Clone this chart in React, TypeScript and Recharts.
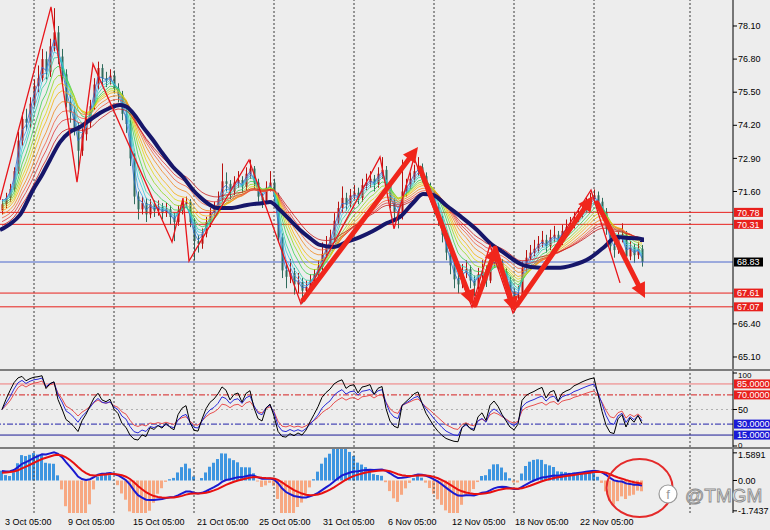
import React from "react";
import { ComposedChart, Bar, Line, XAxis, YAxis, ReferenceLine, ReferenceDot, Cell } from "recharts";

// ---------- price bars (H4-like, one entry per bar) ----------
const opens = [70.85,71.10,71.35,71.70,72.40,73.60,74.45,74.30,75.05,75.75,
76.05,76.80,76.30,77.30,77.85,76.90,76.20,75.10,74.70,74.10,
73.20,73.85,74.30,74.95,75.80,76.45,76.05,75.95,76.15,75.65,
75.40,74.65,74.25,72.90,71.40,70.90,71.15,70.70,71.10,70.85,
71.00,70.75,70.90,70.60,70.40,70.85,71.10,71.20,70.40,69.65,
69.55,69.95,70.40,70.75,70.95,71.30,72.00,71.90,71.60,71.95,
72.05,71.80,72.30,72.50,71.95,71.40,71.25,71.75,71.95,71.40,
69.80,68.50,68.25,68.40,67.95,68.05,67.70,67.85,68.10,68.35,
68.65,69.15,69.50,69.80,70.45,70.95,71.35,71.10,71.45,71.55,
71.35,71.85,71.95,72.10,71.90,72.30,72.45,71.85,71.20,70.80,
70.65,71.60,71.85,72.10,72.40,72.55,72.20,71.80,71.45,71.00,
70.50,69.90,69.20,68.70,68.15,67.95,68.40,68.55,68.10,67.90,
68.35,68.50,68.10,68.75,69.00,68.80,68.45,68.10,67.65,67.40,
67.55,68.60,69.00,69.20,69.35,69.55,69.70,69.45,69.80,69.90,
69.65,70.05,70.20,70.30,70.55,70.70,70.90,71.10,71.30,71.45,
71.20,70.80,70.15,69.45,69.30,69.75,69.90,69.05,69.40,69.10,
69.35];
const highs = [71.30,71.55,71.90,72.55,73.95,74.70,74.85,75.30,76.00,76.55,
77.20,77.10,77.60,78.80,78.10,77.20,76.40,75.40,74.95,74.30,
74.10,74.55,75.20,76.05,76.70,76.60,76.30,76.40,76.35,75.85,
75.55,74.90,74.40,73.10,71.60,71.40,71.35,71.30,71.25,71.25,
71.15,71.15,71.05,70.75,71.05,71.30,71.40,71.30,70.55,69.90,
70.15,70.60,70.95,71.20,71.60,72.70,72.35,72.05,72.20,72.40,
72.20,72.55,72.85,72.60,72.10,71.55,72.00,72.40,72.10,71.55,
69.95,68.80,68.95,68.60,68.40,68.20,68.10,68.35,68.55,68.90,
69.60,69.85,70.10,70.75,71.20,71.80,71.55,71.70,71.85,71.75,
72.10,72.30,72.40,72.25,72.55,72.95,72.60,72.00,71.35,70.90,
72.85,72.10,72.35,72.65,72.95,72.70,72.35,71.95,71.60,71.15,
70.65,70.05,69.40,68.90,68.35,68.75,68.90,68.70,68.30,68.60,
68.90,68.70,69.00,69.45,69.20,68.95,68.60,68.25,67.80,67.90,
68.85,69.30,69.50,69.70,69.85,70.05,69.90,70.10,70.25,70.05,
70.30,70.50,70.60,70.80,70.95,71.15,71.35,71.55,71.68,71.60,
71.35,70.95,70.30,69.65,70.00,70.35,70.05,69.65,69.55,69.60,
69.50];
const lows = [70.70,70.95,71.20,71.60,72.30,73.40,74.00,74.10,74.90,75.50,
75.90,76.00,76.10,77.10,76.60,75.90,74.90,74.30,73.80,72.30,
73.00,73.60,74.10,74.80,75.60,75.80,75.70,75.80,75.45,75.10,
74.40,73.90,72.60,71.10,70.50,70.70,70.40,70.55,70.60,70.65,
70.50,70.60,70.30,69.65,70.25,70.70,70.95,70.20,68.90,69.20,
69.35,69.80,70.20,70.55,70.80,71.20,71.60,71.30,71.45,71.75,
71.55,71.65,72.10,71.70,71.20,70.95,71.10,71.60,71.20,69.60,
68.20,67.80,68.00,67.55,67.60,67.20,67.45,67.70,67.95,68.20,
68.50,69.00,69.30,69.65,70.30,70.80,70.85,70.95,71.25,71.10,
71.20,71.65,71.75,71.60,71.75,72.10,71.60,70.95,70.50,70.15,
70.50,71.40,71.70,71.95,72.20,71.95,71.55,71.20,70.70,70.25,
69.60,68.90,68.35,67.80,67.60,67.80,68.20,67.80,67.50,67.75,
68.15,67.85,68.00,68.60,68.55,68.20,67.80,67.35,66.85,67.20,
67.45,68.45,68.90,69.05,69.20,69.40,69.20,69.30,69.60,69.40,
69.50,69.90,70.00,70.15,70.40,70.55,70.75,70.95,71.15,70.95,
70.55,69.90,69.20,69.00,69.15,69.60,68.70,68.90,68.80,68.95,
68.65];
const closes = [71.10,71.35,71.70,72.40,73.60,74.45,74.30,75.05,75.75,76.05,
76.80,76.30,77.30,77.85,76.90,76.20,75.10,74.70,74.10,73.20,
73.85,74.30,74.95,75.80,76.45,76.05,75.95,76.15,75.65,75.40,
74.65,74.25,72.90,71.40,70.90,71.15,70.70,71.10,70.85,71.00,
70.75,70.90,70.60,70.40,70.85,71.10,71.20,70.40,69.65,69.55,
69.95,70.40,70.75,70.95,71.30,72.00,71.90,71.60,71.95,72.05,
71.80,72.30,72.50,71.95,71.40,71.25,71.75,71.95,71.40,69.80,
68.50,68.25,68.40,67.95,68.05,67.70,67.85,68.10,68.35,68.65,
69.15,69.50,69.80,70.45,70.95,71.35,71.10,71.45,71.55,71.35,
71.85,71.95,72.10,71.90,72.30,72.45,71.85,71.20,70.80,70.65,
71.60,71.85,72.10,72.40,72.55,72.20,71.80,71.45,71.00,70.50,
69.90,69.20,68.70,68.15,67.95,68.40,68.55,68.10,67.90,68.35,
68.50,68.10,68.75,69.00,68.80,68.45,68.10,67.65,67.40,67.55,
68.60,69.00,69.20,69.35,69.55,69.70,69.45,69.80,69.90,69.65,
70.05,70.20,70.30,70.55,70.70,70.90,71.10,71.30,71.45,71.20,
70.80,70.15,69.45,69.30,69.75,69.90,69.05,69.40,69.10,69.35,
68.83];

// ---------- slow navy moving average (x in bar units) ----------
const navyX = [0,2.5,5,8.25,10.5,12.5,15,17.5,20,22.5,25,27.5,30,31.75,33.25,35.75,38.25,40.75,43.25,45.75,48.25,50,52.5,54.25,57.5,61.75,65.75,67.5,70,72.5,75,77.5,80,83.25,86.75,90,93.25,96.75,100,103.25,105.75,108.25,111.75,115,119.25,122.5,125.75,130.75,135,139.25,143.25,147.5,150.75,154.25,157.5,160.5];
const navyP = [70.09,70.32,70.68,71.66,72.25,72.84,73.54,73.94,74.13,74.41,74.68,74.88,75.00,74.92,74.68,74.13,73.62,73.07,72.56,72.17,71.66,71.38,71.07,70.95,70.95,71.07,71.15,71.19,70.87,70.48,70.09,69.77,69.50,69.42,69.62,69.81,70.05,70.36,70.60,71.15,71.50,71.46,71.03,70.64,70.09,69.58,69.22,68.71,68.60,68.60,68.71,68.99,69.38,69.81,69.77,69.73];
const navyTail = 69.62;

// ---------- rainbow MA ribbon (periods in bars, values at first bar) ----------
const rainbowPeriods = [2,3,4,5,7,9,11,13,16,19,22,26];
const rainbowStart = [71.5,71.4,71.3,71.2,71.1,71.0,70.9,70.8,70.65,70.5,70.35,70.2];

// ---------- zigzag pivots ----------
const zigzagX = [0,12.75,19.25,23.25,43,45.75,47.25,62.25,75.25,95,98.5,103.5,118,122.5,128.25,147.75,155];
const zigzagP = [71.27,78.85,71.97,76.61,69.62,71.34,68.87,72.84,67.18,72.96,70.13,72.92,67.06,69.50,66.83,71.66,68.01];

// ---------- thick trend arrows (from -> to) ----------
const arrowFromX = [75.75,105,118.75,123.75,129.25,149.25];
const arrowFromP = [67.34,72.52,67.14,69.38,67.14,71.15];
const arrowToX = [104.5,118.25,124.25,128.75,148.25,161.25];
const arrowToP = [73.35,67.14,69.46,66.87,71.42,67.42];

// ---------- levels & axes ----------
const redLevels = [70.78, 70.31, 67.61, 67.07];
const currentPrice = 68.83;
const priceTicks = [65.1, 66.4, 71.6, 72.9, 74.2, 75.5, 76.8, 78.1];
const oscTicks = [0, 50, 100];
const oscTickText = ["0", "50", "100"];
const macdTicks = [-1.7437, 0, 1.5891];
const macdTickText = ["-1.7437", "0.00", "1.5891"];
const timeTickX = [1.25, 17, 33.25, 49.25, 64.75, 80.75, 97, 113, 128.75, 145];
const timeTickText = ["3 Oct 05:00", "9 Oct 05:00", "15 Oct 05:00", "21 Oct 05:00", "25 Oct 05:00", "31 Oct 05:00", "6 Nov 05:00", "12 Nov 05:00", "18 Nov 05:00", "22 Nov 05:00"];
const gridX = [8.5, 28.5, 48.5, 68.5, 88.5, 108.5, 128.5, 148.5, 172.5];
const circleAt = [159.9, -0.43];

// ---------- indicator helpers ----------
const ema = (src: number[], n: number, seed: number) => {
  const a = 2 / (n + 1);
  let v = seed;
  return src.map((s) => (v = v + a * (s - v)));
};
const rsi = (src: number[], n: number) => {
  let ag = 0.1, al = 0.1;
  return src.map((s, i) => {
    const ch = i ? s - src[i - 1] : 0;
    ag = (ag * (n - 1) + Math.max(ch, 0)) / n;
    al = (al * (n - 1) + Math.max(-ch, 0)) / n;
    return 100 - 100 / (1 + ag / al);
  });
};

const rainbow = rainbowPeriods.map((p, k) => ema(closes, p, rainbowStart[k]));
const fast = ema(closes, 8, 71.0);
const slow = ema(closes, 17, 70.4);
const macd = fast.map((f, i) => f - slow[i]);
const signal = ema(macd, 6, 0.4);
const osc1 = rsi(closes, 5);
const osc2 = rsi(closes, 8);
const osc3 = rsi(closes, 12);

const rows = closes.map((c, i) => {
  const r: any = { x: i + 0.5, o: opens[i], h: highs[i], l: lows[i], c, rng: [lows[i], highs[i]] };
  rainbow.forEach((s, k) => (r["r" + k] = s[i]));
  return r;
});
const navyData = [...navyX.map((x, k) => ({ x, v: navyP[k] })), { x: closes.length - 0.5, v: navyTail }];
const zigzagData = zigzagX.map((x, k) => ({ x, v: zigzagP[k] }));
const oscRows = closes.map((_, i) => ({ x: i + 0.5, a: osc1[i], b: osc2[i], c: osc3[i] }));
const macdRows = closes.map((_, i) => ({ x: i + 0.5, m: macd[i], s: signal[i], hist: 5.5 * (macd[i] - signal[i]) }));

// ---------- styling ----------
const W = 770;
const PLOT_W = 733;
const AXIS_W = W - PLOT_W;
const XDOM: [number, number] = [0, PLOT_W / 4];
const FONT = '"Liberation Sans", Arial, sans-serif';
const BG = "#ededed";
const BULL = "#b8110e";
const BEAR = "#2f6b5c";
const RED = "#e8201c";
const rainbowColors = ["#2a6fd6","#3aa0e8","#38c8e0","#30d0a0","#38d050","#90d820","#e0d810","#f4b010","#f08820","#f06040","#e03838","#c82020"];
const tickStyle = { fontSize: 9, fill: "#000", fontFamily: FONT };

const Candle = (props: any) => {
  const { x, y, width, height, payload } = props;
  if (!payload) return null;
  const top = Math.min(y, y + height);
  const hh = Math.abs(height);
  const { o, h, l, c } = payload;
  const span = h - l || 1;
  const yOf = (v: number) => top + ((h - v) / span) * hh;
  const cx = Math.round(x + width / 2) + 0.5;
  const color = c >= o ? BULL : BEAR;
  const bt = yOf(Math.max(o, c));
  const bb = yOf(Math.min(o, c));
  return (
    <g>
      <line x1={cx} x2={cx} y1={top} y2={top + hh} stroke={color} strokeWidth={1} />
      <rect x={cx - 1} y={bt} width={2} height={Math.max(1, bb - bt)} fill={color} />
    </g>
  );
};

const Arrow = (props: any) => {
  const { x1, y1, x2, y2 } = props;
  const dx = x2 - x1, dy = y2 - y1;
  const len = Math.hypot(dx, dy) || 1;
  const ux = dx / len, uy = dy / len;
  const hl = 15, hw = 7.5;
  const bx = x2 - ux * hl, by = y2 - uy * hl;
  const px = -uy, py = ux;
  return (
    <g>
      <line x1={x1} y1={y1} x2={bx} y2={by} stroke="#f0261c" strokeWidth={5} strokeLinecap="round" />
      <polygon points={`${x2},${y2} ${bx + px * hw},${by + py * hw} ${bx - px * hw},${by - py * hw}`} fill="#f0261c" />
    </g>
  );
};

const tag = (text: string, bg: string, w: number) => (p: any) => {
  const vb = p.viewBox || {};
  const x0 = (vb.x || 0) + (vb.width || 0) + 1;
  const yy = vb.y || 0;
  return (
    <g>
      <rect x={x0} y={yy - 4.5} width={w} height={9} fill={bg} />
      <text x={x0 + 3} y={yy + 3.2} fontSize={9} fontFamily={FONT} fill="#fff">{text}</text>
    </g>
  );
};

// right-axis text with per-tick baseline offsets
const axisText = (values: number[], texts: string[], offsets: number[], sizes: number[]) => (p: any) => {
  const k = values.indexOf(p.payload.value);
  return (
    <text x={p.x} y={p.y + (k >= 0 ? offsets[k] : 3)} fontSize={k >= 0 ? sizes[k] : 9} fontFamily={FONT} fill="#000" textAnchor="start">
      {k >= 0 ? texts[k] : String(p.payload.value)}
    </text>
  );
};
const OscTick = axisText(oscTicks, oscTickText, [1.8, 3, 5], [8, 9, 8]);
const MacdTick = axisText(macdTicks, macdTickText, [3.2, 3.2, 5.2], [9, 9, 9]);

const TimeTick = (p: any) => {
  const idx = timeTickX.indexOf(p.payload.value);
  return (
    <text x={p.x} y={p.y + 12} fontSize={9} fontFamily={FONT} fill="#000" textAnchor="start">
      {idx >= 0 ? timeTickText[idx] : ""}
    </text>
  );
};

const gridLines = gridX.map((gx) => (
  <ReferenceLine key={"g" + gx} x={gx} stroke="#3a3a3a" strokeDasharray="2 2" strokeWidth={1} />
));

export default function App() {
  return (
    <div style={{ position: "absolute", left: 0, top: 0, width: W, height: 530, background: BG, overflow: "hidden" }}>
      {/* main price panel */}
      <div style={{ position: "absolute", left: 0, top: 0 }}>
        <ComposedChart width={W} height={369} data={rows} margin={{ top: 0, right: 0, bottom: 0, left: 0 }}>
          <XAxis type="number" dataKey="x" domain={XDOM} allowDataOverflow hide />
          <YAxis orientation="right" width={AXIS_W} domain={[64.628, 79.121]} allowDataOverflow ticks={priceTicks} interval={0}
            tickFormatter={(v: number) => v.toFixed(2)} tick={tickStyle} tickSize={4} tickMargin={1} stroke="#000" />
          {gridLines}
          {redLevels.map((lv) => (
            <ReferenceLine key={"lv" + lv} y={lv} stroke={RED} strokeWidth={1} label={tag(lv.toFixed(2), RED, 29)} />
          ))}
          <ReferenceLine y={currentPrice} stroke="#4a66cc" strokeWidth={1} label={tag(currentPrice.toFixed(2), "#000", 29)} />
          <Bar dataKey="rng" barSize={2} shape={<Candle />} isAnimationActive={false} />
          {rainbowPeriods.map((_, k) => (
            <Line key={"r" + k} dataKey={"r" + k} stroke={rainbowColors[k]} strokeWidth={0.8} dot={false} activeDot={false} isAnimationActive={false} />
          ))}
          <Line data={navyData} dataKey="v" type="monotone" stroke="#16166a" strokeWidth={4} dot={false} activeDot={false} isAnimationActive={false} />
          <Line data={zigzagData} dataKey="v" type="linear" stroke="#e8141a" strokeWidth={1.3} dot={false} activeDot={false} isAnimationActive={false} />
          {arrowFromX.map((fx, k) => (
            <ReferenceLine key={"a" + k} ifOverflow="visible"
              segment={[{ x: fx, y: arrowFromP[k] }, { x: arrowToX[k], y: arrowToP[k] }]}
              shape={Arrow} />
          ))}
        </ComposedChart>
      </div>
      <div style={{ position: "absolute", left: 0, top: 369, width: W, height: 2, background: "#7d7d7d" }} />
      <div style={{ position: "absolute", left: 0, top: 447, width: W, height: 2, background: "#7d7d7d" }} />
      {/* oscillator panel (plot 371..447) */}
      <div style={{ position: "absolute", left: 0, top: 368 }}>
        <ComposedChart width={W} height={82} data={oscRows} margin={{ top: 3, right: 0, bottom: 3, left: 0 }}>
          <XAxis type="number" dataKey="x" domain={XDOM} allowDataOverflow hide />
          <YAxis orientation="right" width={AXIS_W} domain={[-1.37, 102.74]} allowDataOverflow ticks={oscTicks} interval={0}
            tick={OscTick} tickSize={4} tickMargin={1} stroke="#000" />
          {gridLines}
          <ReferenceLine y={85} stroke="#f07a7a" strokeWidth={1} label={tag("85.0000", RED, 40)} />
          <ReferenceLine y={70} stroke="#d42020" strokeWidth={1} strokeDasharray="6 2 2 2" label={tag("70.0000", RED, 40)} />
          <ReferenceLine y={50} stroke="#b0b0b0" strokeWidth={1} strokeDasharray="2 3" />
          <ReferenceLine y={30} stroke="#2020a8" strokeWidth={1} strokeDasharray="6 2 2 2" label={tag("30.0000", "#1a1ad6", 40)} />
          <ReferenceLine y={15} stroke="#1a1a96" strokeWidth={1} label={tag("15.0000", "#1a1ad6", 40)} />
          <Line dataKey="c" stroke="#e85050" strokeWidth={1} dot={false} activeDot={false} isAnimationActive={false} />
          <Line dataKey="b" stroke="#2a2ad8" strokeWidth={1} dot={false} activeDot={false} isAnimationActive={false} />
          <Line dataKey="a" stroke="#000" strokeWidth={1} dot={false} activeDot={false} isAnimationActive={false} />
        </ComposedChart>
      </div>
      {/* MACD panel */}
      <div style={{ position: "absolute", left: 0, top: 449 }}>
        <ComposedChart width={W} height={81} data={macdRows} margin={{ top: 0, right: 0, bottom: 0, left: 0 }}>
          <XAxis type="number" dataKey="x" domain={XDOM} allowDataOverflow ticks={timeTickX} interval={0} height={17}
            axisLine={false} tickLine={false} tickSize={0} tickMargin={0} tick={<TimeTick />} />
          <YAxis orientation="right" width={AXIS_W} domain={[-1.868, 1.81]} allowDataOverflow ticks={macdTicks} interval={0}
            tick={MacdTick} tickSize={4} tickMargin={1} stroke="#000" />
          {gridLines}
          <Bar dataKey="hist" barSize={3} isAnimationActive={false}>
            {macdRows.map((r, i) => (
              <Cell key={i} fill={r.hist >= 0 ? "#3d95e0" : "#f7a882"} />
            ))}
          </Bar>
          <Line dataKey="m" stroke="#1a1ad0" strokeWidth={2} dot={false} activeDot={false} isAnimationActive={false} />
          <Line dataKey="s" stroke="#e81010" strokeWidth={2} dot={false} activeDot={false} isAnimationActive={false} />
          <ReferenceDot x={circleAt[0]} y={circleAt[1]} r={1} ifOverflow="visible"
            shape={(p: any) => <ellipse cx={p.cx} cy={p.cy} rx={33} ry={29} fill="none" stroke="#e42a2a" strokeWidth={2} />} />
        </ComposedChart>
      </div>
      {/* watermark */}
      <svg style={{ position: "absolute", left: 652, top: 478 }} width={118} height={32}>
        <circle cx={16} cy={16} r={9} fill="#fff" stroke="#9a9a9a" strokeWidth={1.2} />
        <text x={16} y={21} fontSize={13} fontFamily={FONT} fill="#9a9a9a" textAnchor="middle">f</text>
        <text x={33} y={24} fontSize={19} fontFamily={FONT} fill="#fff" stroke="#8c8c8c" strokeWidth={0.9}>@TMGM</text>
      </svg>
    </div>
  );
}
